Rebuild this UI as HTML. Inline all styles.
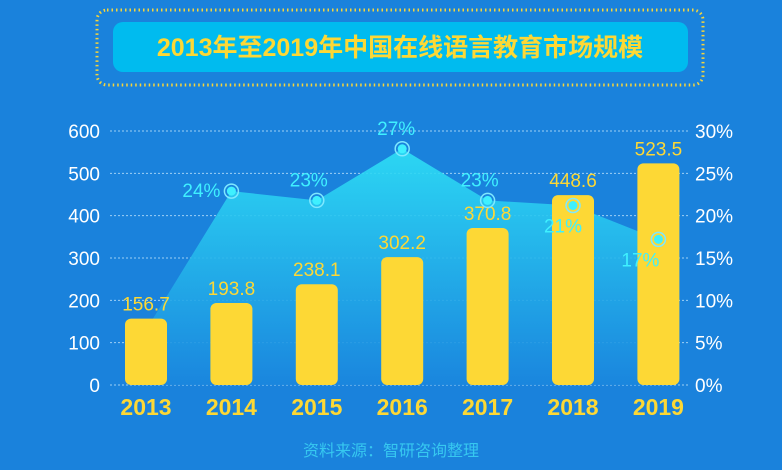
<!DOCTYPE html>
<html><head><meta charset="utf-8"><style>
body{margin:0;width:782px;height:470px;overflow:hidden;background:#1a82dc;font-family:"Liberation Sans","Noto Sans CJK SC",sans-serif;}
svg{display:block}
</style></head><body>
<svg id="c" width="782" height="470">
<defs>
<linearGradient id="ag" x1="0" y1="0" x2="0" y2="1">
<stop offset="0" stop-color="#2ee0f6"/><stop offset="1" stop-color="#1a86de"/>
</linearGradient>
</defs>
<rect x="97" y="10" width="606" height="75" rx="10" fill="none" stroke="#f7d53a" stroke-width="3" stroke-dasharray="1.5 3"/>
<rect x="113" y="22" width="575" height="50" rx="10" fill="#00bbef"/>
<text x="400" y="56" text-anchor="middle" font-size="25" font-weight="bold" fill="#fdd835" font-family="Liberation Sans,Noto Sans CJK SC,sans-serif">2013年至2019年中国在线语言教育市场规模</text>
<g id="grid"></g><g id="area"></g><g id="bars"></g><g id="marks"></g><g id="axes"></g>
<text x="391" y="456" text-anchor="middle" font-size="16" fill="#36c8f0">资料来源：智研咨询整理</text>
</svg>
<script>
const years=["2013","2014","2015","2016","2017","2018","2019"];
const sizes=[156.7,193.8,238.1,302.2,370.8,448.6,523.5];
const sizeLabels=["156.7","193.8","238.1","302.2","370.8","448.6","523.5"];
const rates=[6.5,22.9,21.8,27.9,21.8,21.2,17.2];
const rateLabels=["","24%","23%","27%","23%","21%","17%"];
const leftTicks=[0,100,200,300,400,500,600];
const rightTicks=[0,5,10,15,20,25,30];
const NS="http://www.w3.org/2000/svg";
const X0=146,DX=85.4,Y0=385,YT=131;
const xs=i=>X0+i*DX;
const yL=v=>Y0-(v/600)*(Y0-YT);
const yR=v=>Y0-(v/30)*(Y0-YT);
function mk(p,t,a){const e=document.createElementNS(NS,t);for(const k in a)e.setAttribute(k,a[k]);p.appendChild(e);return e;}
const G=id=>document.getElementById(id);
leftTicks.forEach((v,i)=>{
 const l=mk(G('grid'),'line',{x1:110,x2:690,y1:yL(v),y2:yL(v),stroke:'#9fd0f5','stroke-width':1,'stroke-dasharray':'2 2'});
 
 
 const t=mk(G('axes'),'text',{x:100,y:yL(v)+7,'text-anchor':'end','font-size':19,fill:'#fff'});t.textContent=v;
 
 
});
rightTicks.forEach(v=>{
 const t=mk(G('axes'),'text',{x:695,y:yR(v)+7,'font-size':19,fill:'#fff'});t.textContent=v+'%';
 
 
});
let d='M'+xs(0)+','+Y0;
rates.forEach((r,i)=>{d+=' L'+xs(i)+','+yR(r);});
d+=' L'+xs(rates.length-1)+','+Y0+' Z';
const ar=mk(G('area'),'path',{d:d,fill:'url(#ag)',opacity:0.9});


sizes.forEach((v,i)=>{
 const b=mk(G('bars'),'rect',{x:xs(i)-21,y:yL(v),width:42,height:Y0-yL(v),rx:6,fill:'#fdd835'});
 
 
 const t=mk(G('bars'),'text',{x:xs(i),y:yL(v)-8,'text-anchor':'middle','font-size':19,fill:'#fdd835'});t.textContent=sizeLabels[i];
 
 
 const y=mk(G('axes'),'text',{x:xs(i),y:415,'text-anchor':'middle','font-size':23,'font-weight':'bold',fill:'#fdd835'});y.textContent=years[i];
 
 
});
const lp=[null,[-30,6],[-8,-14],[-6,-14],[-8,-14],[-10,27],[-18,27]];
rates.forEach((r,i)=>{
 if(i===0)return;
 const c1=mk(G('marks'),'circle',{cx:xs(i),cy:yR(r),r:7,fill:'none',stroke:'#7fe8ff','stroke-width':1.5});
 
 
 const c2=mk(G('marks'),'circle',{cx:xs(i),cy:yR(r),r:4.5,fill:'#3ff0ff'});
 
 
 const t=mk(G('marks'),'text',{x:xs(i)+lp[i][0],y:yR(r)+lp[i][1],'text-anchor':'middle','font-size':19,fill:'#3ff0ff'});t.textContent=rateLabels[i];
 
 
});
</script>
</body></html>
